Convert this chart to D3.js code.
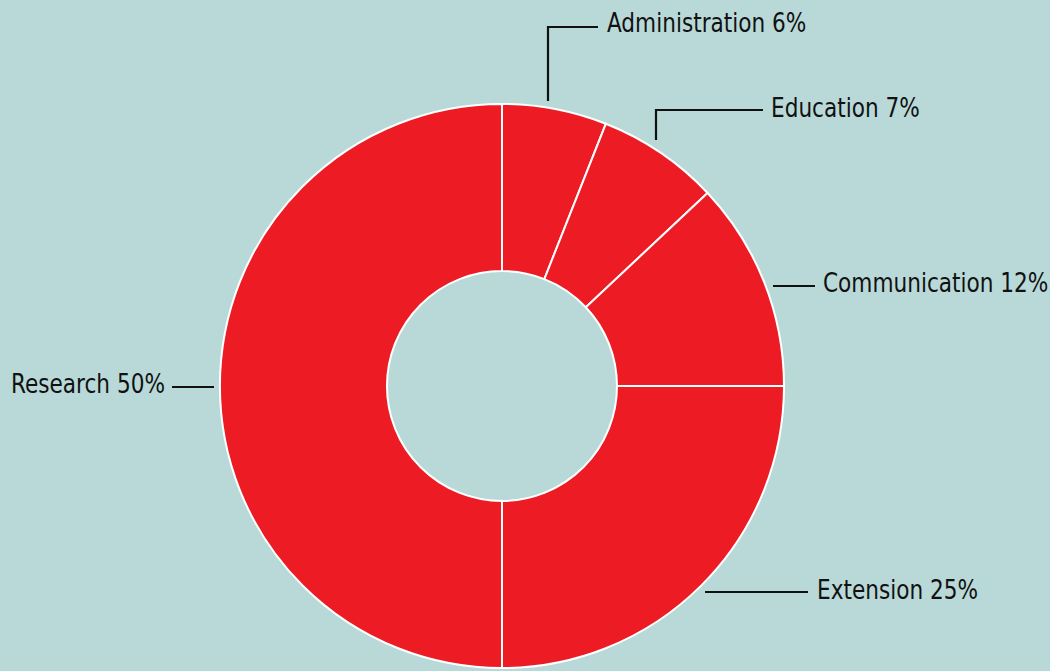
<!DOCTYPE html>
<html>
<head>
<meta charset="utf-8">
<script src="https://cdn.jsdelivr.net/npm/d3@7"></script>
<style>
  html, body { margin: 0; padding: 0; background: #b9d9d9; }
  svg { display: block; }
  .label { font-family: "DejaVu Sans Condensed", "Liberation Sans Narrow", sans-serif; font-size: 26px; fill: #111; }
</style>
</head>
<body>
<div id="chart"></div>
<script>
// data
const categories = ['Administration', 'Education', 'Communication', 'Extension', 'Research'];
const shares = [6, 7, 12, 25, 50];

const width = 1050;
const height = 671;
const cx = 502, cy = 386;
const outerR = 282, innerR = 115;
const squeeze = 0.925; // the reference face is narrower than DejaVu Condensed

// leader line elbows and label anchors (annotation layout only)
const leaders = {
  Administration: { pts: [[548, 101], [548, 27], [598, 27]], tx: 607, ty: 32, anchor: 'start' },
  Education:      { pts: [[656, 140], [656, 110], [763, 110]], tx: 771, ty: 117, anchor: 'start' },
  Communication:  { pts: [[773, 286], [815, 286]], tx: 823, ty: 292, anchor: 'start' },
  Extension:      { pts: [[705, 592], [808, 592]], tx: 817, ty: 599, anchor: 'start' },
  Research:       { pts: [[214, 387], [172, 387]], tx: 165, ty: 393, anchor: 'end' }
};

const svg = d3.select('#chart')
  .append('svg')
    .attr('width', width)
    .attr('height', height);

svg.append('rect')
  .attr('width', width)
  .attr('height', height)
  .attr('fill', '#b9d9d9');

const g = svg.append('g')
  .attr('transform', `translate(${cx},${cy})`);

const pie = d3.pie()
  .sort(null)
  .value(d => d[1]);

const data_ready = pie(d3.zip(categories, shares));

const arc = d3.arc()
  .innerRadius(innerR)
  .outerRadius(outerR);

g.selectAll('path')
  .data(data_ready)
  .join('path')
  .attr('d', arc)
  .attr('fill', '#ed1c24')
  .attr('stroke', '#fff')
  .style('stroke-width', '2px');

const line = d3.line();

svg.selectAll('.leader')
  .data(data_ready)
  .join('path')
  .attr('class', 'leader')
  .attr('d', d => line(leaders[d.data[0]].pts))
  .attr('fill', 'none')
  .attr('stroke', '#111')
  .style('stroke-width', '2.2px');

svg.selectAll('.label')
  .data(data_ready)
  .join('text')
  .attr('class', 'label')
  .attr('transform', d => `translate(${leaders[d.data[0]].tx},${leaders[d.data[0]].ty}) scale(${squeeze},1)`)
  .attr('text-anchor', d => leaders[d.data[0]].anchor)
  .text(d => `${d.data[0]} ${d.data[1]}%`);
</script>
</body>
</html>
